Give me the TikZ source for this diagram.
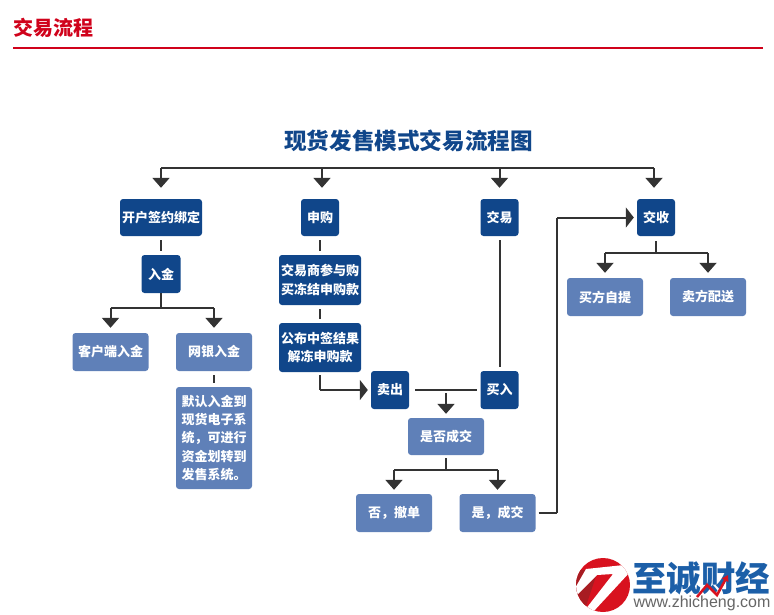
\documentclass[tikz,border=0pt]{standalone}
\usepackage{fontspec}
\setmainfont{Noto Sans CJK SC}
\newfontfamily\latinfont{Liberation Sans}
\usetikzlibrary{arrows.meta}
\definecolor{darkblue}{HTML}{10468A}
\definecolor{lightblue}{HTML}{5F80B8}
\definecolor{linegray}{HTML}{333333}
\definecolor{headred}{HTML}{D0021B}
\definecolor{logoblue}{HTML}{1C5FA8}
\definecolor{logored}{HTML}{D8121F}
\definecolor{logodark}{HTML}{A81C22}
\tikzset{
  box/.style={rounded corners=3pt,text=white,inner sep=0pt,align=center,
    font=\fontsize{13}{18.2}\selectfont\bfseries},
  darkbox/.style={box,fill=darkblue},
  lightbox/.style={box,fill=lightblue},
  flow/.style={line width=2pt,draw=linegray},
  down/.style={flow,-{Triangle[width=17pt,length=10pt]},shorten >=#1},
  side/.style={-{Triangle[width=20pt,length=8pt]},shorten >=3pt},
  gap/.style={flow,shorten <=4pt,shorten >=4pt}
}
\begin{document}
\begin{tikzpicture}[x=1pt,y=-1pt]
      \useasboundingbox (0,0) rectangle (774,614);
      \draw
        (53,28) node[text=headred,font=\fontsize{20}{20}\selectfont\bfseries] (header){交易流程}
        (408.5,141) node[text=darkblue,font=\fontsize{22.6}{23}\selectfont\bfseries] (title){现货发售模式交易流程图}
        (161,217.5) node[darkbox,minimum width=82pt,minimum height=37pt] (kaihu){开户签约绑定}
        (161,274) node[darkbox,minimum width=39pt,minimum height=38pt] (rujin){入金}
        (110.5,352) node[lightbox,minimum width=76pt,minimum height=38pt] (kehu){客户端入金}
        (214,352) node[lightbox,minimum width=76pt,minimum height=38pt] (wangyin){网银入金}
        (214,438) node[lightbox,minimum width=76pt,minimum height=102pt] (moren){默认入金到\\现货电子系\\统，可进行\\资金划转到\\发售系统。}
        (320,217.5) node[darkbox,minimum width=38pt,minimum height=37pt] (shengou){申购}
        (320,280) node[darkbox,minimum width=82pt,minimum height=50pt] (canyu){交易商参与购\\买冻结申购款}
        (320,347.5) node[darkbox,minimum width=82pt,minimum height=49pt] (gongbu){公布中签结果\\解冻申购款}
        (390,390) node[darkbox,minimum width=38pt,minimum height=38pt] (maichu){卖出}
        (499.5,390) node[darkbox,minimum width=38pt,minimum height=38pt] (mairu){买入}
        (446,436.5) node[lightbox,minimum width=76pt,minimum height=37pt] (shifou){是否成交}
        (394,513) node[lightbox,minimum width=76pt,minimum height=38pt] (fou){否，撤单}
        (497.5,513) node[lightbox,minimum width=76pt,minimum height=38pt] (shi){是，成交}
        (499.5,217.5) node[darkbox,minimum width=38pt,minimum height=37pt] (jiaoyi){交易}
        (656,217.5) node[darkbox,minimum width=38pt,minimum height=37pt] (jiaoshou){交收}
        (605,297) node[lightbox,minimum width=76pt,minimum height=38pt] (ziti){买方自提}
        (708,297) node[lightbox,minimum width=76pt,minimum height=38pt] (peisong){卖方配送};
      \coordinate (busone) at (161,168);
      \coordinate (bustwo) at (322,168);
      \coordinate (busthree) at (499.5,168);
      \coordinate (busfour) at (654,168);
      \coordinate (rujinsplit) at (161,308);
      \coordinate (splitleft) at (110.5,308);
      \coordinate (splitright) at (214,308);
      \coordinate (chengjiaomid) at (446,393);
      \coordinate (shifousplit) at (446,470);
      \coordinate (shifouleft) at (394,470);
      \coordinate (shifouright) at (497.5,470);
      \coordinate (turnone) at (557,513);
      \coordinate (turntwo) at (557,217.5);
      \coordinate (gongbuturn) at (320,390);
      \coordinate (jiaoshousplit) at (656,253);
      \coordinate (jiaoshouleft) at (605,253);
      \coordinate (jiaoshouright) at (708,253);
      \begin{scope}[flow]
        \draw[draw=headred] (13,48) -- (763,48);
        \draw (busone) -- (busfour);
        \draw[down=11pt] (busone) -- (kaihu);
        \draw[down=11pt] (bustwo) -- (bustwo |- shengou.north);
        \draw[down=11pt] (busthree) -- (jiaoyi);
        \draw[down=11pt] (busfour) -- (busfour |- jiaoshou.north);
        \draw[gap] (kaihu) -- (rujin);
        \draw (rujin) -- (rujinsplit);
        \draw (splitleft) -- (splitright);
        \draw[down=5pt] (splitleft) -- (kehu);
        \draw[down=5pt] (splitright) -- (wangyin);
        \draw[gap] (wangyin) -- (moren);
        \draw[gap] (shengou) -- (canyu);
        \draw[gap] (canyu) -- (gongbu);
        \draw[shorten <=3pt] (gongbu) -- (gongbuturn);
        \draw[side] (gongbuturn) -- (maichu);
        \draw[flow,shorten <=6pt,shorten >=3pt] (maichu) -- (mairu);
        \draw[gap] (jiaoyi) -- (mairu);
        \draw[down=4pt] (chengjiaomid) -- (shifou);
        \draw[shorten <=3pt] (shifou) -- (shifousplit);
        \draw (shifouleft) -- (shifouright);
        \draw[down=4pt] (shifouleft) -- (fou);
        \draw[down=4pt] (shifouright) -- (shi);
        \draw[shorten <=3pt] (shi) -- (turnone);
        \draw (turnone) -- (turntwo);
        \draw[side] (turntwo) -- (jiaoshou);
        \draw[shorten <=5pt] (jiaoshou) -- (jiaoshousplit);
        \draw (jiaoshouleft) -- (jiaoshouright);
        \draw[down=5pt] (jiaoshouleft) -- (ziti);
        \draw[down=5pt] (jiaoshouright) -- (peisong);
      \end{scope}
      \begin{scope}
        \clip (603,585) circle (27);
        \fill[logored] (570,550) rectangle (640,620);
        \fill[logodark] (570,570) -- (598,570) -- (584,612) -- (570,620) -- cycle;
        \fill[white] (586,569) -- (624,565) -- (630,572) -- (593,612) -- (585,610) -- (613,574) -- (597,575) -- (575,597) -- (574,590) -- cycle;
      \end{scope}
      \draw
        (701,578) node[text=logoblue,font=\fontsize{34.5}{35}\selectfont\bfseries] (logoname){至诚财经}
        (702,603) node[text=black!60,font=\latinfont\fontsize{16}{17}\selectfont] (logourl){www.zhicheng.com};
      \draw[logored,line width=2.5pt,-{Triangle[width=7pt,length=6pt]}] (697,597) -- (707,585) -- (717,595) -- (728,575);
    \end{tikzpicture}
\end{document}
